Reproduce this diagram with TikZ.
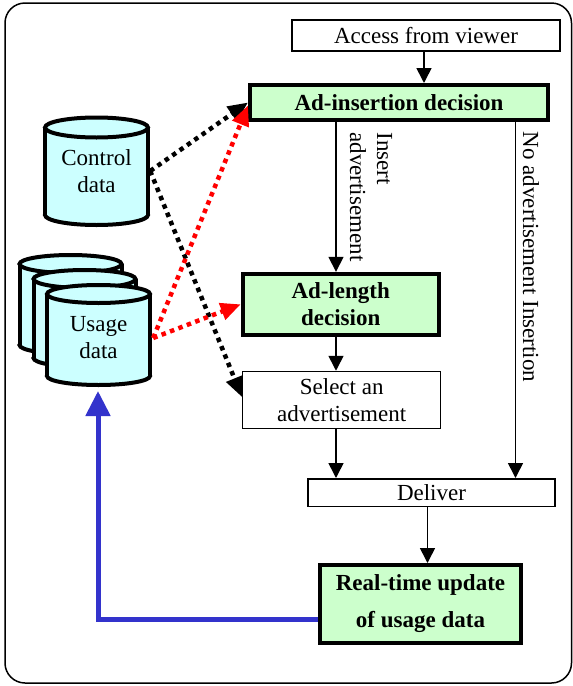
\documentclass[tikz,border=0pt]{standalone}
\usepackage{fontspec}
\setmainfont{Liberation Serif}
\usetikzlibrary{arrows.meta,calc}
\definecolor{boxgreen}{HTML}{CCFFCC}
\definecolor{cylcyan}{HTML}{CCFFFF}
\definecolor{fbblue}{HTML}{3333CC}
\definecolor{dotred}{HTML}{FF0000}
\newcommand{\mycyl}[5]{%
  \filldraw[fill=cylcyan,line width=4pt] (#1,#3) ellipse[x radius=#4, y radius=#5];
  \fill[cylcyan] (#1-#4,#2) rectangle (#1+#4,#3);
  \draw[line width=4pt] (#1-#4,#2) -- (#1-#4,#3) (#1+#4,#2) -- (#1+#4,#3);
  \filldraw[fill=cylcyan,line width=4pt] (#1,#2) ellipse[x radius=#4, y radius=#5];
}
\tikzset{
  thinbox/.style={draw, line width=1.5pt, fill=white, inner sep=0pt, align=center},
  thickbox/.style={draw, line width=4pt, fill=boxgreen, inner sep=0pt, align=center, font=\fontsize{23}{27}\selectfont\bfseries},
  arr/.style={line width=1.6pt, -{Triangle[length=15pt,width=15pt]}},
  dotblk/.style={line width=4.5pt, dash pattern=on 4.5pt off 4.5pt, -{Triangle[length=20pt,width=17pt]}},
  dotrd/.style={dotblk, dotred},
  fbarr/.style={line width=5pt, fbblue, -{Triangle[length=25pt,width=24pt]}},
}
\begin{document}
\begin{tikzpicture}[x=1pt,y=-1pt,font=\fontsize{23}{27}\selectfont]
\useasboundingbox (0,0) rectangle (573,686);
\draw[line width=1.5pt, rounded corners=20pt] (5,3) rectangle (571.5,683);

% cylinders
\mycyl{96.5}{127.5}{215}{51.5}{10}
\mycyl{70.5}{264}{345}{51}{9}
\mycyl{84.5}{279}{358}{51}{9}
\mycyl{98.5}{294}{376}{51.5}{9}
\node[inner sep=0pt, minimum width=107pt, align=center] (ctrl) at (96.5,171) {Control\\data};
\node[inner sep=0pt, minimum width=109pt, align=center] (usage) at (98.5,338) {Usage\\data};
\coordinate (ubot) at (98,391);

% boxes
\node[thinbox, minimum width=268pt, minimum height=31pt] (access) at (426,35.5) {Access from viewer};
\node[thickbox, minimum width=298pt, minimum height=35pt] (adins) at (399,102.5) {Ad-insertion decision};
\node[thickbox, minimum width=196pt, minimum height=61pt] (adlen) at (340.7,304.3) {Ad-length\\decision};
\node[thinbox, minimum width=198pt, minimum height=57pt] (select) at (341.7,400) {Select an\\advertisement};
\node[thinbox, minimum width=247pt, minimum height=27.5pt] (deliver) at (431.5,492.5) {Deliver};
\node[thickbox, minimum width=201pt, minimum height=78pt] (rt) at (420.5,604) {Real-time update\\[10pt]of usage data};

% labels
\node[rotate=-90, align=left, inner sep=0pt] (inslbl) at (371,197) {Insert\\advertisement};
\node[rotate=-90, inner sep=0pt] (nolbl) at (531,257) {No advertisement Insertion};

% flow arrows
\coordinate (xa) at (336,0);
\coordinate (xb) at (515.5,0);
\coordinate (xc) at (427.5,0);
\coordinate (xd) at (424,0);
\draw[arr] (access.south -| xd) -- (adins.north -| xd);
\draw[arr] (adins.south -| xa) -- (adlen.north -| xa);
\draw[arr] (adlen.south -| xa) -- (select.north -| xa);
\draw[arr] (select.south -| xa) -- (deliver.north -| xa);
\draw[arr] (adins.south -| xb) -- (deliver.north -| xb);
\draw[arr] (deliver.south -| xc) -- (rt.north -| xc);

% data arrows
\draw[dotblk] (ctrl.east) -- (adins.west);
\draw[dotblk] (ctrl.east) -- ($(select.west)+(0,-3)$);
\draw[dotrd] (usage.east) -- ($(adins.west)+(0,3)$);
\draw[dotrd] (usage.east) -- (adlen.west);

% feedback
\draw[fbarr] ($(rt.west)+(0,15)$) -| (ubot);
\end{tikzpicture}
\end{document}
